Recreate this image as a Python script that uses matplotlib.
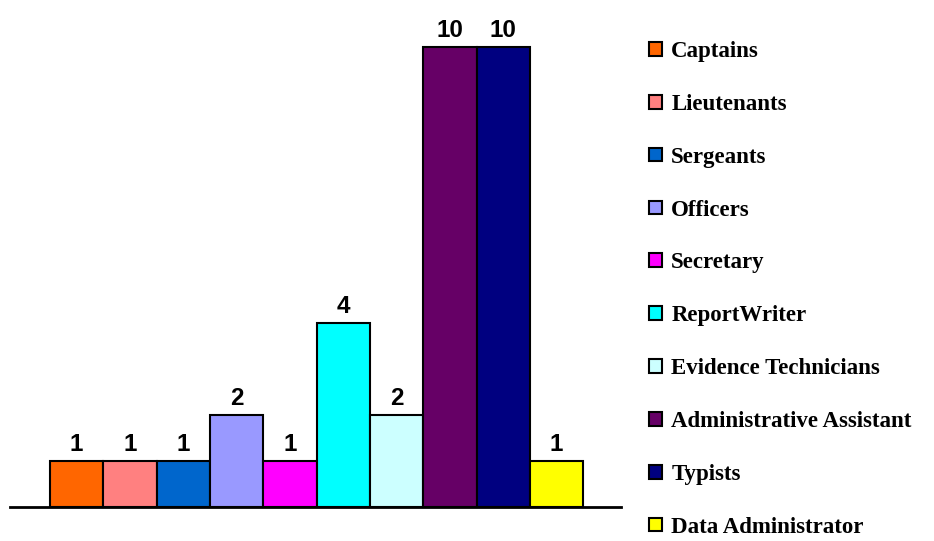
import matplotlib
matplotlib.use("Agg")
import matplotlib.pyplot as plt

# staff counts by position
positions = ["Captains", "Lieutenants", "Sergeants", "Officers", "Secretary",
             "ReportWriter", "Evidence Technicians", "Administrative Assistant",
             "Typists", "Data Administrator"]
counts = [1, 1, 1, 2, 1, 4, 2, 10, 10, 1]
colors = ["#FF6600", "#FF8080", "#0066CC", "#9999FF", "#FF00FF",
          "#00FFFF", "#CCFFFF", "#660066", "#000080", "#FFFF00"]

fig = plt.figure(figsize=(9.34, 5.41), dpi=100)
ax = fig.add_axes([10/934, 1 - 507/541, 611/934, 506/541])

bars = []
for i in range(len(counts)):
	b = ax.bar(i, counts[i], width=1.0, color=colors[i], edgecolor="black",
	           linewidth=1.5, label=positions[i], zorder=2)
	bars.append(b)
	ax.text(i, counts[i] + 0.1, str(counts[i]), ha="center", va="bottom",
	        fontsize=17.5, fontweight="bold", family="Liberation Sans", clip_on=False)

ax.set_xlim(-1.25, 10.21)
ax.set_ylim(0, 11)
for s in ["top", "right", "left"]:
	ax.spines[s].set_visible(False)
ax.spines["bottom"].set_linewidth(2)
ax.set_xticks([])
ax.set_yticks([])

leg = fig.legend(handles=[b[0] for b in bars], labels=positions,
                 loc="upper left", bbox_to_anchor=(638/934, 1 - 29.5/541),
                 frameon=False, handlelength=0.55, handleheight=0.55,
                 handletextpad=0.4, labelspacing=1.39, borderpad=0,
                 prop={"family": "Liberation Serif", "weight": "bold", "size": 16.5})

fig.savefig("out.png", dpi=100)
